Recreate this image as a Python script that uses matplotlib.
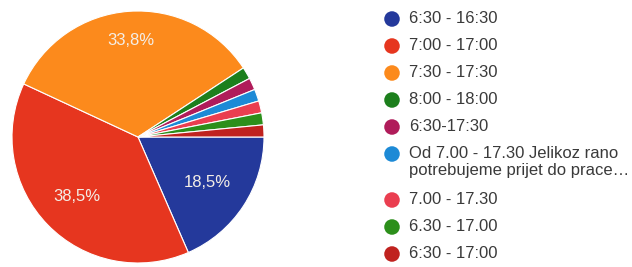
import numpy as np
import matplotlib.pyplot as plt

# data: 65 responses
labels = ["6:30 - 16:30", "7:00 - 17:00", "7:30 - 17:30", "8:00 - 18:00",
          "6:30-17:30", "Od 7.00 - 17.30 Jelikoz rano\npotrebujeme prijet do prace…",
          "7.00 - 17.30", "6.30 - 17.00", "6:30 - 17:00"]
counts = [12, 25, 22, 1, 1, 1, 1, 1, 1]
colors = ["#24399b", "#e6361f", "#fc8a1c", "#1c7f1c", "#b01c5a",
          "#1d8ad6", "#ea3e50", "#2c8f1b", "#c0221f"]
label_dist = [0.66, 0.68, 0.77, 0, 0, 0, 0, 0, 0]

plt.rcParams['font.family'] = ['Liberation Sans', 'DejaVu Sans']

fig = plt.figure(figsize=(6.32, 2.67), dpi=100)

ax = fig.add_axes([12 / 632, 4 / 267, 252 / 632, 252 / 267])
wedges, _ = ax.pie(counts, colors=colors, startangle=0, counterclock=False,
                   wedgeprops=dict(edgecolor="white", linewidth=0.8))
ax.set_xlim(-1, 1)
ax.set_ylim(-1, 1)
ax.set_aspect("equal")

total = sum(counts)
for w, c, d in zip(wedges, counts, label_dist):
    pct = 100 * c / total
    if pct < 5:
        continue
    ang = np.deg2rad((w.theta1 + w.theta2) / 2)
    ax.text(d * np.cos(ang), d * np.sin(ang), f"{pct:.1f}%".replace(".", ","),
            ha="center", va="center", color="#f4eee6", fontsize=12)

# legend drawn by hand in pixel coords
lg = fig.add_axes([0, 0, 1, 1])
lg.set_xlim(0, 632)
lg.set_ylim(267, 0)
lg.axis("off")
y = 19
for lab, col in zip(labels, colors):
    lg.scatter(392, y, s=125, color=col, edgecolors="none")
    lg.text(409, y - 8, lab, ha="left", va="top", fontsize=12,
            color="#3a3a3a", linespacing=1.2)
    y += 27 + 19 * lab.count("\n")

fig.savefig("out.png", dpi=100, facecolor="white")
